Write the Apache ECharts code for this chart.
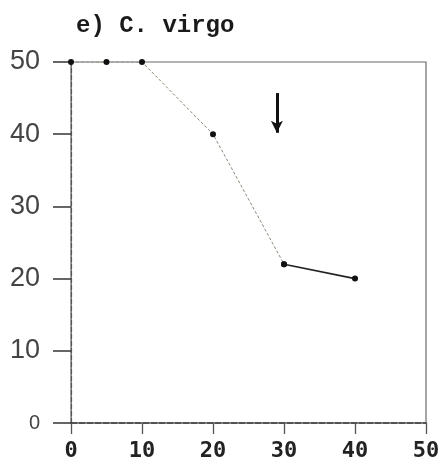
<!DOCTYPE html>
<html>
<head>
<meta charset="utf-8">
<script src="https://cdn.jsdelivr.net/npm/echarts@6/dist/echarts.min.js"></script>
<style>html,body{margin:0;padding:0;background:#fff}#c{width:447px;height:469px}</style>
</head>
<body>
<div id="c"></div>
<script>
var titleText = 'e) C. virgo';
var xValues = [0, 5, 10, 20, 30, 40];
var yValues = [50, 50, 50, 40, 22, 20];
var xTicks = [0, 10, 20, 30, 40, 50];
var yTicks = [0, 10, 20, 30, 40, 50];
var arrowX = 29;
var arrowFrom = 45.7;
var arrowTo = 40.2;

var pts = xValues.map(function (x, i) { return [x, yValues[i]]; });
var faintPart = pts.slice(0, 5);
var solidPart = pts.slice(4);

var chart = echarts.init(document.getElementById('c'), null, {renderer: 'canvas'});
chart.setOption({
  backgroundColor: '#fff',
  animation: false,
  title: {
    text: titleText, left: 71, top: 9,
    textStyle: {fontFamily: 'Liberation Mono', fontWeight: 'bold', fontSize: 24, color: '#1a1a1a'}
  },
  grid: {left: 71, right: 21, top: 62, bottom: 46, show: true, borderColor: '#6a6a6a', borderWidth: 1.2, backgroundColor: 'transparent'},
  xAxis: {
    type: 'value', min: xTicks[0], max: xTicks[xTicks.length - 1], interval: 10,
    axisLine: {show: true, lineStyle: {color: '#333', width: 1.5, type: [6, 2]}},
    axisTick: {show: true, inside: true, length: -11, lineStyle: {color: '#555', width: 1.3, type: 'solid'}},
    splitLine: {show: false},
    axisLabel: {margin: 17, fontFamily: 'DejaVu Sans Mono', fontWeight: 'bold', fontSize: 22, color: '#222'}
  },
  yAxis: {
    type: 'value', min: yTicks[0], max: yTicks[yTicks.length - 1], interval: 10,
    axisLine: {show: true, lineStyle: {color: '#555', width: 1.2, type: [5, 2]}},
    axisTick: {show: true, inside: false, length: 18, lineStyle: {color: '#333', width: 1.5, type: 'solid'}},
    splitLine: {show: false},
    axisLabel: {
      margin: 31, fontFamily: 'Liberation Sans', fontSize: 27, color: '#444',
      formatter: function (v) { return v === 0 ? '{s|0}' : String(v); },
      rich: {s: {fontFamily: 'Liberation Sans', fontSize: 20, color: '#444'}}
    }
  },
  series: [
    {
      type: 'line', data: faintPart, showSymbol: true, symbol: 'circle', symbolSize: 6,
      itemStyle: {color: '#111'},
      lineStyle: {color: '#8a8a7a', width: 1, type: [3, 2]},
      z: 3,
      markLine: {
        silent: true, symbol: ['none', 'arrow'], symbolSize: [9, 12], label: {show: false},
        lineStyle: {color: '#111', width: 3, type: 'solid'},
        data: [[{coord: [arrowX, arrowFrom]}, {coord: [arrowX, arrowTo]}]]
      }
    },
    {
      type: 'line', data: solidPart, showSymbol: true, symbol: 'circle', symbolSize: 6,
      itemStyle: {color: '#111'},
      lineStyle: {color: '#222', width: 1.6, type: 'solid'},
      z: 4
    }
  ]
});
</script>
</body>
</html>
